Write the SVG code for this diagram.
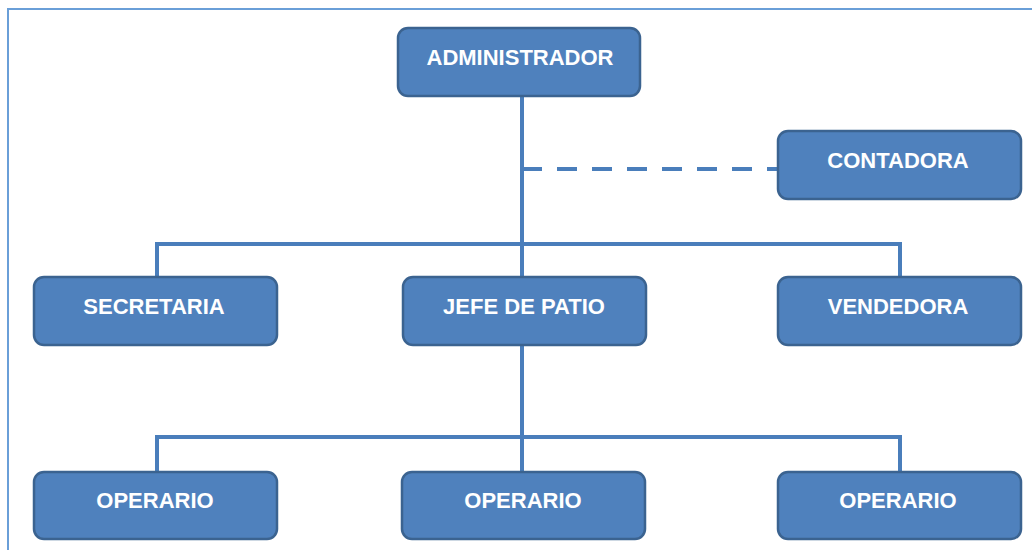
<svg xmlns="http://www.w3.org/2000/svg" width="1032" height="550" viewBox="0 0 1032 550">
<defs>
<style>
.box{fill:#4f81bd;stroke:#3b6390;stroke-width:2.5}
.lbl{font-family:"Liberation Sans",Arial,sans-serif;font-weight:bold;font-size:22px;fill:#ffffff;text-anchor:middle}
.ln{stroke:#4a7ebb;stroke-width:4;fill:none}
.dash{stroke:#4a7ebb;stroke-width:4;fill:none;stroke-dasharray:20,15}
</style>
</defs>
<rect x="0" y="0" width="1032" height="550" fill="#ffffff"/>
<path d="M8 550 V9 H1032" fill="none" stroke="#6a9fd8" stroke-width="2"/>
<g id="connectors">
<path class="ln" d="M522 96 V277"/>
<path class="dash" d="M522 169 H777"/>
<path class="ln" d="M157 277 V244 H900 V277"/>
<path class="ln" d="M522 345 V472"/>
<path class="ln" d="M157 472 V437 H900 V472"/>
</g>
<g id="administrador"><rect class="box" x="398" y="28" width="242" height="68" rx="10"/><text class="lbl" x="520" y="65">ADMINISTRADOR</text></g>
<g id="contadora"><rect class="box" x="778" y="131" width="243" height="68" rx="10"/><text class="lbl" x="898" y="168">CONTADORA</text></g>
<g id="secretaria"><rect class="box" x="34" y="277" width="243" height="68" rx="10"/><text class="lbl" x="154" y="314">SECRETARIA</text></g>
<g id="jefe"><rect class="box" x="403" y="277" width="243" height="68" rx="10"/><text class="lbl" x="524" y="314">JEFE DE PATIO</text></g>
<g id="vendedora"><rect class="box" x="778" y="277" width="243" height="68" rx="10"/><text class="lbl" x="898" y="314">VENDEDORA</text></g>
<g id="operario1"><rect class="box" x="34" y="472" width="243" height="67" rx="10"/><text class="lbl" x="155" y="508">OPERARIO</text></g>
<g id="operario2"><rect class="box" x="402" y="472" width="243" height="67" rx="10"/><text class="lbl" x="523" y="508">OPERARIO</text></g>
<g id="operario3"><rect class="box" x="778" y="472" width="243" height="67" rx="10"/><text class="lbl" x="898" y="508">OPERARIO</text></g>
</svg>
